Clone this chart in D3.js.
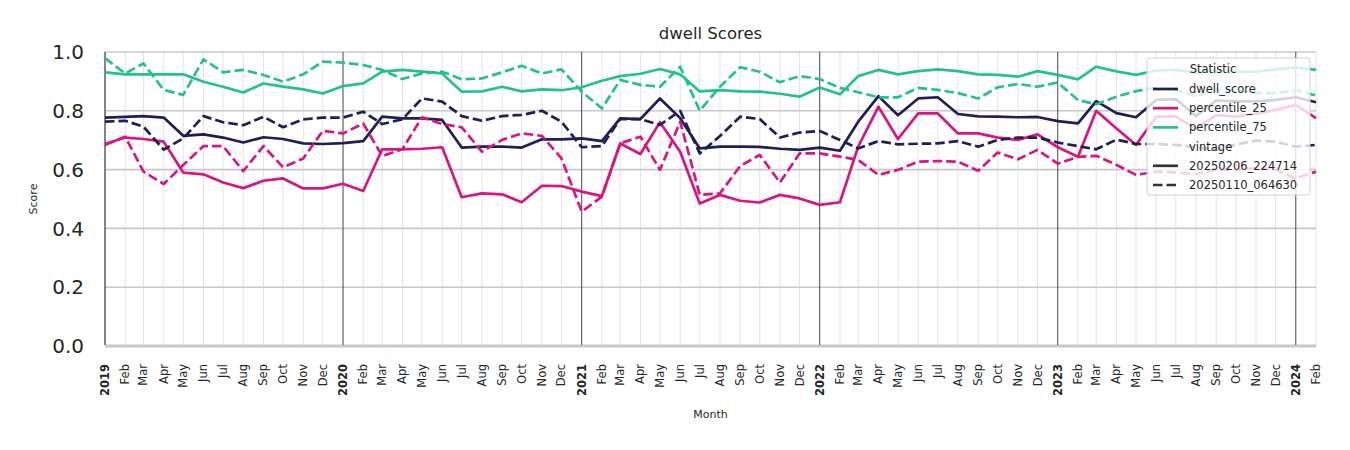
<!DOCTYPE html>
<html>
<head>
<meta charset="utf-8">
<script src="https://cdnjs.cloudflare.com/ajax/libs/d3/7.8.5/d3.min.js"></script>
<style>
  body { margin: 0; background: #fff; font-family: "DejaVu Sans", sans-serif; }
  .title { font-size: 16.5px; fill: #262626; }
  .yTick { font-size: 20px; fill: #262626; }
  .axisLabel { font-size: 11px; fill: #262626; }
  .xTick { font-size: 11.5px; fill: #262626; }
</style>
</head>
<body>
<div id="canvas"></div>
<script>
var W = 1350, H = 450;
var m = {t: 52, r: 34, b: 104, l: 105};
var w = W - m.l - m.r,
    h = H - m.t - m.b;

// months 2019-01 .. 2024-02
var months = d3.timeMonth.range(new Date(2019, 0, 1), new Date(2024, 2, 1));

var dwellScore = [0.777,0.779,0.782,0.777,0.715,0.72,0.709,0.692,0.71,0.704,0.689,0.687,
  0.690,0.697,0.78,0.774,0.774,0.769,0.675,0.678,0.678,0.675,0.703,0.703,
  0.706,0.697,0.774,0.772,0.842,0.775,0.672,0.678,0.678,0.677,0.671,0.667,
  0.675,0.664,0.763,0.85,0.785,0.842,0.846,0.789,0.781,0.78,0.778,0.779,
  0.765,0.757,0.833,0.792,0.778,0.837,0.84,0.782,0.835,0.832,0.832,0.837,
  0.846,0.829];
var pct25 = [0.687,0.709,0.704,0.695,0.59,0.584,0.556,0.537,0.562,0.57,0.536,0.536,
  0.552,0.527,0.669,0.669,0.671,0.676,0.506,0.519,0.516,0.489,0.545,0.544,
  0.525,0.51,0.689,0.653,0.761,0.661,0.485,0.514,0.494,0.488,0.514,0.502,
  0.48,0.489,0.678,0.814,0.704,0.791,0.791,0.723,0.723,0.709,0.701,0.72,
  0.676,0.644,0.8,0.74,0.684,0.78,0.78,0.74,0.785,0.78,0.79,0.803,
  0.82,0.775];
var pct75 = [0.931,0.924,0.924,0.924,0.924,0.899,0.882,0.862,0.893,0.882,0.873,0.859,
  0.884,0.893,0.933,0.939,0.933,0.927,0.865,0.866,0.882,0.866,0.873,0.870,
  0.880,0.902,0.918,0.926,0.942,0.924,0.866,0.870,0.866,0.865,0.858,0.848,
  0.879,0.856,0.918,0.939,0.924,0.935,0.941,0.935,0.924,0.922,0.916,0.935,
  0.922,0.907,0.95,0.934,0.922,0.937,0.939,0.931,0.937,0.933,0.933,0.941,
  0.948,0.939];
var dwellVintage = [0.763,0.766,0.746,0.668,0.706,0.782,0.761,0.751,0.78,0.744,0.771,0.777,
  0.777,0.797,0.755,0.771,0.842,0.831,0.782,0.766,0.782,0.786,0.8,0.763,
  0.676,0.68,0.772,0.772,0.752,0.8,0.655,0.714,0.78,0.772,0.709,0.726,
  0.731,0.701,0.672,0.697,0.686,0.688,0.689,0.697,0.678,0.701,0.709,0.709,
  0.692,0.68,0.669,0.702,0.687,0.687,0.684,0.675,0.668,0.685,0.699,0.695,
  0.678,0.684];
var pct25Vintage = [0.684,0.712,0.593,0.551,0.616,0.68,0.68,0.595,0.68,0.608,0.638,0.732,
  0.723,0.757,0.646,0.669,0.778,0.755,0.744,0.661,0.701,0.723,0.715,0.638,
  0.457,0.508,0.689,0.712,0.599,0.763,0.514,0.519,0.612,0.65,0.556,0.655,
  0.655,0.644,0.633,0.582,0.599,0.627,0.629,0.627,0.596,0.658,0.635,0.667,
  0.62,0.643,0.647,0.616,0.582,0.593,0.59,0.585,0.6,0.6,0.605,0.6,
  0.57,0.593];
var pct75Vintage = [0.979,0.927,0.961,0.871,0.854,0.975,0.931,0.939,0.922,0.899,0.924,0.967,
  0.964,0.956,0.939,0.908,0.927,0.933,0.907,0.91,0.931,0.953,0.927,0.941,
  0.865,0.808,0.905,0.888,0.882,0.95,0.8,0.882,0.948,0.933,0.897,0.918,
  0.908,0.878,0.863,0.846,0.846,0.878,0.871,0.86,0.842,0.88,0.891,0.882,
  0.896,0.837,0.822,0.848,0.867,0.878,0.871,0.85,0.87,0.87,0.86,0.86,
  0.87,0.852];

var statNames = ['dwell_score', 'percentile_25', 'percentile_75'];
var statColors = ['#1f1f57', '#d8167f', '#23c28c'];
var vintages = ['20250206_224714', '20250110_064630'];
var yTicks = [0, 0.2, 0.4, 0.6, 0.8, 1.0];

var series = [
  {stat: 0, vintage: 0, values: dwellScore},
  {stat: 1, vintage: 0, values: pct25},
  {stat: 2, vintage: 0, values: pct75},
  {stat: 0, vintage: 1, values: dwellVintage},
  {stat: 1, vintage: 1, values: pct25Vintage},
  {stat: 2, vintage: 1, values: pct75Vintage}
];

var svg = d3.select('#canvas').append('svg')
  .attr('width', W).attr('height', H);

var plot = svg.append('g')
  .attr('transform', 'translate(' + m.l + ',' + m.t + ')');

var x = d3.scaleTime()
  .domain([months[0], months[months.length - 1]])
  .range([0, w]);
var y = d3.scaleLinear().domain([0, 1]).range([h, 0]);

// month grid
plot.append('g').selectAll('line')
  .data(months.filter(function(d){ return d.getMonth() != 0; }))
  .enter().append('line')
  .attr('x1', function(d){ return x(d); })
  .attr('x2', function(d){ return x(d); })
  .attr('y1', 0).attr('y2', h)
  .attr('stroke', '#e3e3e3').attr('stroke-width', 1);

// horizontal grid
plot.append('g').selectAll('line')
  .data(yTicks)
  .enter().append('line')
  .attr('x1', 0).attr('x2', w)
  .attr('y1', function(d){ return y(d); })
  .attr('y2', function(d){ return y(d); })
  .attr('stroke', '#c8c8c8')
  .attr('stroke-width', function(d){ return d == 0 ? 3 : 1.6; });

// year lines
plot.append('g').selectAll('line')
  .data(months.filter(function(d){ return d.getMonth() == 0 && d > months[0]; }))
  .enter().append('line')
  .attr('x1', function(d){ return x(d); })
  .attr('x2', function(d){ return x(d); })
  .attr('y1', 0).attr('y2', h - 1)
  .attr('stroke', '#444').attr('stroke-width', 1);

// left spine
plot.append('line')
  .attr('x1', 0).attr('x2', 0).attr('y1', 0).attr('y2', h - 1)
  .attr('stroke', '#333').attr('stroke-width', 1.2);

// y ticks
plot.append('g').selectAll('text')
  .data(yTicks)
  .enter().append('text')
  .attr('class', 'yTick')
  .attr('x', -21)
  .attr('y', function(d){ return y(d); })
  .attr('dy', '0.36em')
  .style('text-anchor', 'end')
  .text(function(d){ return d3.format('.1f')(d); });

// x ticks
plot.append('g').selectAll('text')
  .data(months)
  .enter().append('text')
  .attr('class', 'xTick')
  .attr('transform', function(d){ return 'translate(' + (x(d) + 4) + ',' + (h + 18) + ') rotate(-90)'; })
  .style('text-anchor', 'end')
  .style('font-weight', function(d){ return d.getMonth() == 0 ? 'bold' : 'normal'; })
  .text(function(d){ return d.getMonth() == 0 ? d3.timeFormat('%Y')(d) : d3.timeFormat('%b')(d); });

// lines
var line = d3.line()
  .x(function(d, i){ return x(months[i]); })
  .y(function(d){ return y(d); });

plot.append('g').selectAll('path')
  .data(series)
  .enter().append('path')
  .attr('d', function(d){ return line(d.values); })
  .attr('fill', 'none')
  .attr('stroke', function(d){ return statColors[d.stat]; })
  .attr('stroke-width', 2.7)
  .attr('stroke-linejoin', 'round')
  .attr('stroke-dasharray', function(d){ return d.vintage == 1 ? '9.5,4' : null; });

// labels
svg.append('text').attr('class', 'title')
  .attr('x', m.l + w / 2).attr('y', 39)
  .style('text-anchor', 'middle')
  .text('dwell Scores');

svg.append('text').attr('class', 'axisLabel')
  .attr('x', m.l + w / 2).attr('y', 418)
  .style('text-anchor', 'middle')
  .text('Month');

svg.append('text').attr('class', 'axisLabel')
  .attr('transform', 'translate(37,' + (m.t + h / 2) + ') rotate(-90)')
  .style('text-anchor', 'middle')
  .text('Score');

// legend
var lg = svg.append('g').attr('transform', 'translate(1147,58)');
lg.append('rect')
  .attr('width', 163).attr('height', 137)
  .attr('rx', 3)
  .attr('fill', '#fff').attr('fill-opacity', 0.8)
  .attr('stroke', '#d0d0d0').attr('stroke-width', 1);
lg.append('text')
  .attr('x', 66).attr('y', 15)
  .style('text-anchor', 'middle')
  .style('font-size', '11.5px').attr('fill', '#262626')
  .text('Statistic');

var entries = statNames.map(function(s, i){ return {label: s, color: statColors[i], dash: null}; });
entries.push({label: 'vintage', color: null, dash: null});
vintages.forEach(function(v, i){
  entries.push({label: v, color: '#333', dash: i == 1 ? '9.5,4' : null});
});

var row = lg.selectAll('.entry').data(entries).enter().append('g')
  .attr('class', 'entry')
  .attr('transform', function(d, i){ return 'translate(0,' + (31 + i * 19.2) + ')'; });
row.filter(function(d){ return d.color; }).append('line')
  .attr('x1', 6).attr('x2', 31)
  .attr('stroke', function(d){ return d.color; })
  .attr('stroke-width', 2.7)
  .attr('stroke-dasharray', function(d){ return d.dash; });
row.append('text')
  .attr('x', 42).attr('dy', '0.35em')
  .style('font-size', '11.5px').attr('fill', '#262626')
  .text(function(d){ return d.label; });
</script>
</body>
</html>
